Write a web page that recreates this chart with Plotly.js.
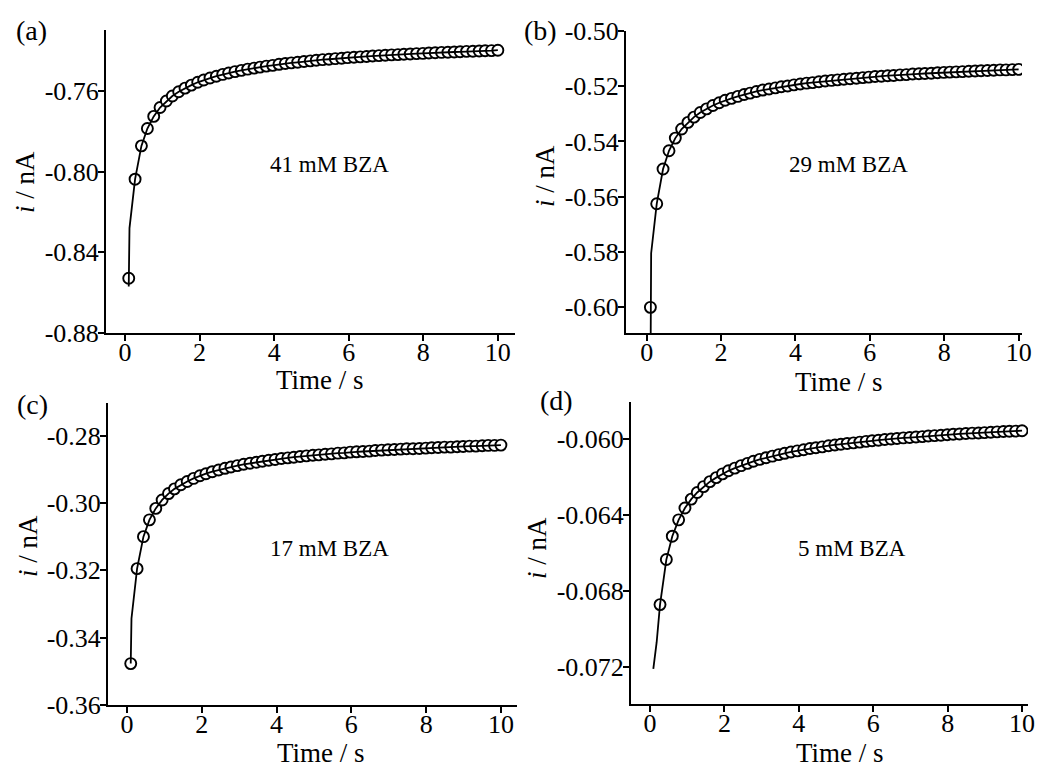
<!DOCTYPE html>
<html>
<head>
<meta charset="utf-8">
<script src="https://cdn.plot.ly/plotly-3.0.1.min.js"></script>
<style>html,body{margin:0;padding:0;background:#fff;}#chart{width:1040px;height:767px;}</style>
</head>
<body>
<div id="chart"></div>
<script>
// ---- data ----
const time = [0.10,0.27,0.44,0.60,0.77,0.94,1.11,1.27,1.44,1.61,1.78,1.95,2.11,2.28,2.45,2.62,2.78,2.95,3.12,3.29,3.46,3.62,3.79,3.96,4.13,4.30,4.46,4.63,4.80,4.97,5.13,5.30,5.47,5.64,5.81,5.97,6.14,6.31,6.48,6.64,6.81,6.98,7.15,7.32,7.48,7.65,7.82,7.99,8.15,8.32,8.49,8.66,8.83,8.99,9.16,9.33,9.50,9.66,9.83,10.00];

const currA = [-0.8529,-0.8038,-0.7873,-0.7787,-0.7727,-0.7683,-0.7651,-0.7626,-0.7605,-0.7587,-0.7572,-0.7558,-0.7547,-0.7537,-0.7528,-0.7519,-0.7512,-0.7505,-0.7499,-0.7493,-0.7488,-0.7483,-0.7478,-0.7474,-0.7469,-0.7465,-0.7462,-0.7459,-0.7455,-0.7452,-0.7449,-0.7446,-0.7444,-0.7441,-0.7439,-0.7436,-0.7434,-0.7432,-0.7430,-0.7428,-0.7426,-0.7424,-0.7422,-0.7421,-0.7419,-0.7418,-0.7416,-0.7415,-0.7413,-0.7412,-0.7410,-0.7409,-0.7408,-0.7407,-0.7405,-0.7404,-0.7403,-0.7402,-0.7401,-0.7399];

const currB = [-0.6001,-0.5626,-0.5500,-0.5434,-0.5388,-0.5355,-0.5331,-0.5312,-0.5295,-0.5282,-0.5270,-0.5260,-0.5251,-0.5244,-0.5237,-0.5230,-0.5225,-0.5219,-0.5214,-0.5210,-0.5206,-0.5202,-0.5199,-0.5195,-0.5192,-0.5189,-0.5187,-0.5184,-0.5181,-0.5179,-0.5177,-0.5175,-0.5173,-0.5171,-0.5169,-0.5167,-0.5165,-0.5164,-0.5162,-0.5161,-0.5159,-0.5158,-0.5156,-0.5155,-0.5154,-0.5153,-0.5151,-0.5150,-0.5149,-0.5148,-0.5147,-0.5146,-0.5145,-0.5144,-0.5143,-0.5142,-0.5141,-0.5141,-0.5140,-0.5139];

const currC = [-0.3477,-0.3195,-0.3100,-0.3050,-0.3016,-0.2991,-0.2972,-0.2958,-0.2946,-0.2936,-0.2927,-0.2919,-0.2913,-0.2907,-0.2902,-0.2897,-0.2893,-0.2889,-0.2885,-0.2882,-0.2879,-0.2876,-0.2873,-0.2871,-0.2868,-0.2866,-0.2864,-0.2862,-0.2860,-0.2858,-0.2857,-0.2855,-0.2854,-0.2852,-0.2851,-0.2849,-0.2848,-0.2847,-0.2846,-0.2844,-0.2843,-0.2842,-0.2841,-0.2840,-0.2839,-0.2839,-0.2838,-0.2837,-0.2836,-0.2835,-0.2834,-0.2834,-0.2833,-0.2832,-0.2831,-0.2831,-0.2830,-0.2829,-0.2829,-0.2828];

const currD = [-0.07576,-0.06872,-0.06635,-0.06512,-0.06426,-0.06364,-0.06317,-0.06282,-0.06251,-0.06225,-0.06204,-0.06184,-0.06168,-0.06154,-0.06141,-0.06129,-0.06118,-0.06108,-0.06099,-0.06091,-0.06083,-0.06076,-0.06069,-0.06063,-0.06057,-0.06051,-0.06047,-0.06042,-0.06036,-0.06032,-0.06028,-0.06024,-0.06021,-0.06017,-0.06013,-0.06010,-0.06007,-0.06003,-0.06001,-0.05998,-0.05995,-0.05993,-0.05990,-0.05988,-0.05985,-0.05983,-0.05981,-0.05978,-0.05976,-0.05974,-0.05972,-0.05970,-0.05969,-0.05967,-0.05965,-0.05963,-0.05961,-0.05960,-0.05959,-0.05957];

// early part of the fitted curves (differs from the markers near t = 0)
const fitHeadTimeA = [0.10, 0.11, 0.12];
const fitHeadCurrA = [-0.857, -0.829, -0.828];
const fitHeadTimeB = [0.10, 0.10, 0.11, 0.12];
const fitHeadCurrB = [-0.630, -0.601, -0.5815, -0.5805];
const fitHeadTimeC = [0.10, 0.12];
const fitHeadCurrC = [-0.3477, -0.3343];
const fitHeadTimeD = [0.09, 0.18];
const fitHeadCurrD = [-0.0721, -0.0707];

const xTickVals = [0, 2, 4, 6, 8, 10];
const xTickText = ["0", "2", "4", "6", "8", "10"];
const yTickValsA = [-0.88, -0.84, -0.80, -0.76];
const yTickTextA = ["-0.88", "-0.84", "-0.80", "-0.76"];
const yTickValsB = [-0.60, -0.58, -0.56, -0.54, -0.52, -0.50];
const yTickTextB = ["-0.60", "-0.58", "-0.56", "-0.54", "-0.52", "-0.50"];
const yTickValsC = [-0.36, -0.34, -0.32, -0.30, -0.28];
const yTickTextC = ["-0.36", "-0.34", "-0.32", "-0.30", "-0.28"];
const yTickValsD = [-0.072, -0.068, -0.064, -0.060];
const yTickTextD = ["-0.072", "-0.068", "-0.064", "-0.060"];

const panelLabels = ["(a)", "(b)", "(c)", "(d)"];
const concLabels = ["41 mM BZA", "29 mM BZA", "17 mM BZA", "5 mM BZA"];
const xTitle = "Time / s";
const yTitle = "<i>i</i> / nA";

// ---- chart ----
const FONT = "Liberation Serif, Times New Roman, serif";
const W = 1040, H = 767;
const px = v => v / W;
const py = v => 1 - v / H;

const panels = [
  {cur: currA, ht: fitHeadTimeA, hc: fitHeadCurrA, xa: "x", ya: "y"},
  {cur: currB, ht: fitHeadTimeB, hc: fitHeadCurrB, xa: "x2", ya: "y2"},
  {cur: currC, ht: fitHeadTimeC, hc: fitHeadCurrC, xa: "x3", ya: "y3"},
  {cur: currD, ht: fitHeadTimeD, hc: fitHeadCurrD, xa: "x4", ya: "y4"}
];

const traces = [];
panels.forEach(p => {
  traces.push({
    x: time, y: p.cur, xaxis: p.xa, yaxis: p.ya, type: "scatter", mode: "markers",
    marker: {symbol: "circle", size: 11, color: "#ffffff", line: {color: "#000000", width: 1.9}},
    showlegend: false, hoverinfo: "skip"
  });
  traces.push({
    x: p.ht.concat(time.slice(1)), y: p.hc.concat(p.cur.slice(1)),
    xaxis: p.xa, yaxis: p.ya, type: "scatter", mode: "lines",
    line: {color: "#000000", width: 1.8}, showlegend: false, hoverinfo: "skip"
  });
});

function xAx(d0, d1, r0, r1, anchor) {
  return {domain: [px(d0), px(d1)], range: [r0, r1], anchor: anchor,
    tickmode: "array", tickvals: xTickVals, ticktext: xTickText,
    ticks: "outside", ticklen: 6, tickwidth: 2, tickcolor: "#000",
    ticklabelstandoff: -11,
    showline: true, linecolor: "#000", linewidth: 2, showgrid: false, zeroline: false,
    tickfont: {family: FONT, size: 26, color: "#000"}, fixedrange: true};
}
function yAx(d0, d1, r0, r1, anchor, tv, tt) {
  return {domain: [py(d1), py(d0)], range: [r0, r1], anchor: anchor,
    tickmode: "array", tickvals: tv, ticktext: tt,
    ticks: "outside", ticklen: 6, tickwidth: 2, tickcolor: "#000",
    ticklabelstandoff: -6,
    showline: true, linecolor: "#000", linewidth: 2, showgrid: false, zeroline: false,
    tickfont: {family: FONT, size: 26, color: "#000"}, fixedrange: true};
}

const ann = [];
function addText(text, x, y, size, angle) {
  ann.push({text: text, x: px(x), y: py(y), xref: "paper", yref: "paper",
    xanchor: "center", yanchor: "middle", showarrow: false, textangle: angle || 0,
    font: {family: FONT, size: size, color: "#000"}});
}
addText(panelLabels[0], 31, 30, 28);
addText(panelLabels[1], 540, 31, 28);
addText(panelLabels[2], 32, 404, 28);
addText(panelLabels[3], 556, 400, 28);
addText(concLabels[0], 329, 164, 23);
addText(concLabels[1], 848, 165, 23);
addText(concLabels[2], 329, 548, 23);
addText(concLabels[3], 852, 548, 23);
addText(xTitle, 320, 380, 27);
addText(xTitle, 839, 382, 27);
addText(xTitle, 321, 753, 27);
addText(xTitle, 840, 753, 27);
addText(yTitle, 25, 182, 27, -90);
addText(yTitle, 545, 176, 27, -90);
addText(yTitle, 28, 546, 27, -90);
addText(yTitle, 537, 548, 27, -90);

const layout = {
  width: W, height: H, margin: {l: 0, r: 0, t: 0, b: 0},
  paper_bgcolor: "#fff", plot_bgcolor: "#fff", showlegend: false,
  xaxis: xAx(106, 515, -0.51, 10.46, "y"),
  yaxis: yAx(30, 333, -0.88, -0.7299, "x", yTickValsA, yTickTextA),
  xaxis2: xAx(626, 1022, -0.556, 10.09, "y2"),
  yaxis2: yAx(31, 333, -0.6094, -0.50, "x2", yTickValsB, yTickTextB),
  xaxis3: xAx(108, 517, -0.508, 10.43, "y3"),
  yaxis3: yAx(403, 705, -0.36, -0.2703, "x3", yTickValsC, yTickTextC),
  xaxis4: xAx(631, 1028, -0.51, 10.16, "y4"),
  yaxis4: yAx(402, 704, -0.07395, -0.05806, "x4", yTickValsD, yTickTextD),
  annotations: ann
};

Plotly.newPlot("chart", traces, layout, {staticPlot: true, displayModeBar: false});
</script>
</body>
</html>
